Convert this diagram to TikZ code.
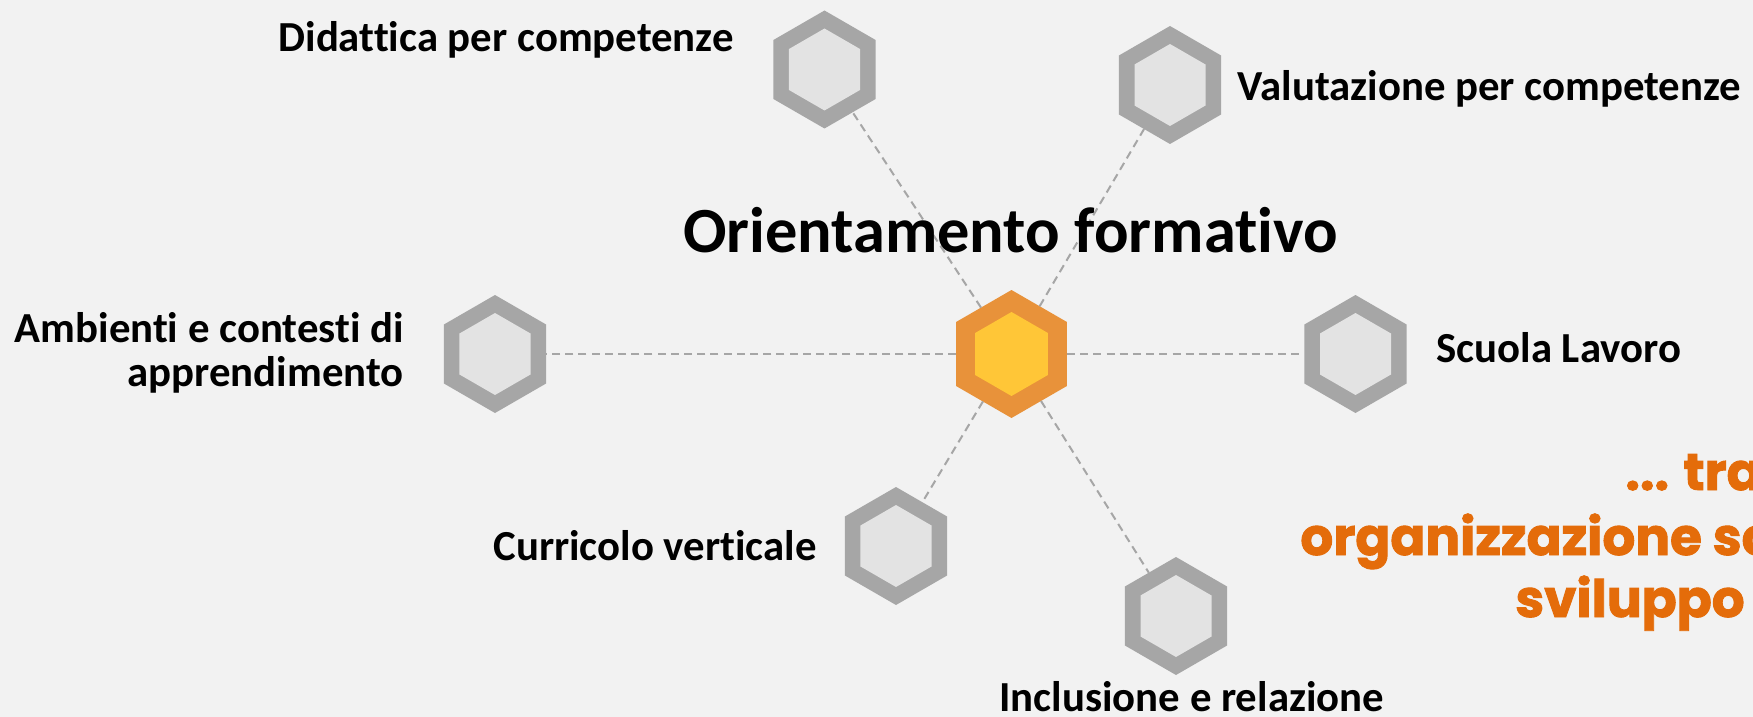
\documentclass[tikz,border=0pt]{standalone}
\usepackage{fontspec}
\setmainfont{Carlito}[Ligatures=NoCommon]
\newfontfamily\popfont{Poppins}[BoldFeatures={FakeBold=1.8}]
\usetikzlibrary{shapes.geometric}
\definecolor{bg}{HTML}{F2F2F2}
\definecolor{hexout}{HTML}{A6A6A6}
\definecolor{hexin}{HTML}{E3E3E3}
\definecolor{orgout}{HTML}{E8923A}
\definecolor{orgin}{HTML}{FFC637}
\definecolor{orangetxt}{HTML}{E46C0A}
\definecolor{dashgray}{HTML}{A6A6A6}
\begin{document}
\begin{tikzpicture}[x=0.5pt,y=-0.5pt,
  hexbase/.style={regular polygon, regular polygon sides=6, regular polygon rotate=30, inner sep=0pt, outer sep=0pt},
  grayout/.style={hexbase, fill=hexout, minimum size=59pt},
  grayin/.style={hexbase, fill=hexin, minimum size=41pt},
  coreout/.style={hexbase, fill=orgout, minimum size=64pt},
  corein/.style={hexbase, fill=orgin, minimum size=42pt},
  conn/.style={draw=dashgray, line width=1pt, dash pattern=on 4pt off 2.6pt},
  lbl/.style={inner sep=0pt, font=\bfseries\fontsize{21.4pt}{21.5pt}\selectfont},
  orangelbl/.style={inner sep=0pt, text=orangetxt, font=\popfont\bfseries\fontsize{25.8pt}{30pt}\selectfont}]
\useasboundingbox (0,0) rectangle (1753,717);
\fill[bg] (0,0) rectangle (1753,717);

% hexagons
\node[coreout] (core) at (1011.5,354) {};
\node[corein] (corei) at (core) {};
\node[grayout] (did) at (824.5,69.5) {};
\node[grayin] (didi) at (did) {};
\node[grayout] (val) at (1170,85) {};
\node[grayin] (vali) at (val) {};
\node[grayout] (amb) at (495,354) {};
\node[grayin] (ambi) at (amb) {};
\node[grayout] (scu) at (1355.5,354) {};
\node[grayin] (scui) at (scu) {};
\node[grayout] (cur) at (896,546) {};
\node[grayin] (curi) at (cur) {};
\node[grayout] (inc) at (1176,616) {};
\node[grayin] (inci) at (inc) {};

% connectors
\draw[conn] (core) -- (did);
\draw[conn] (core) -- (val);
\draw[conn] (core) -- (amb);
\draw[conn] (core) -- (scu);
\draw[conn] (core) -- (cur);
\draw[conn] (core) -- (inc);

% title
\node[inner sep=0pt, anchor=base, font=\bfseries\fontsize{32.2pt}{36pt}\selectfont] (title) at (1010.5,252) {Orientamento formativo};

% labels
\node[lbl, anchor=base east] (tdid) at (734,52) {Didattica per competenze};
\node[lbl, anchor=base west] (tval) at (1237,101) {Valutazione per competenze};
\node[lbl, anchor=base east, align=right] (tamb) at (404,386) {Ambienti e contesti di\\apprendimento};
\node[lbl, anchor=base west] (tscu) at (1436,362) {Scuola Lavoro};
\node[lbl, anchor=base west] (tcur) at (493,560) {Curricolo verticale};
\node[lbl, anchor=base west] (tinc) at (999,711) {Inclusione e relazione};

% orange text (cut at the right edge)
\begin{scope}
\clip (0,0) rectangle (1753,717);
\node[orangelbl, anchor=base west] (or1) at (1625,490) {... tra};
\node[orangelbl, anchor=base west] (or2) at (1300,555) {organizzazione sc};
\node[orangelbl, anchor=base west] (or3) at (1515,617) {sviluppo};
\end{scope}
\end{tikzpicture}
\end{document}
